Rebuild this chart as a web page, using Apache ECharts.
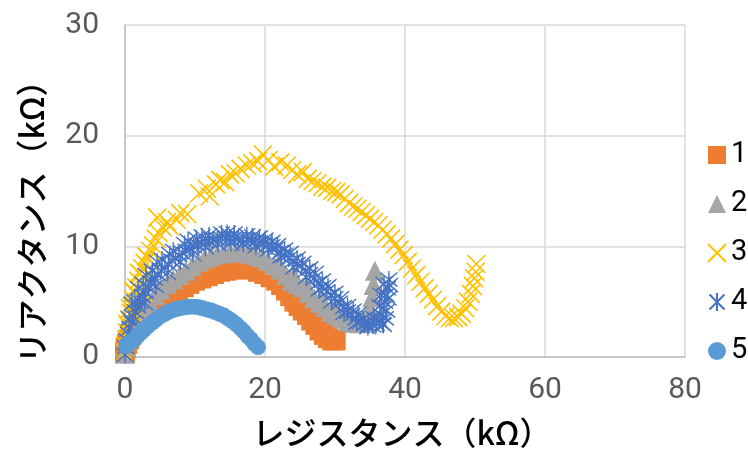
<!DOCTYPE html>
<html>
<head>
<meta charset="utf-8">
<script src="https://cdn.jsdelivr.net/npm/echarts@6/dist/echarts.min.js"></script>
<style>
  html, body { margin: 0; padding: 0; background: #fff; }
  #chart { width: 748px; height: 454px; }
</style>
</head>
<body>
<div id="chart"></div>
<script>
// Impedance traces: [resistance kΩ, reactance kΩ]
const seriesNames = ['1', '2', '3', '4', '5'];
const xTicks = [0, 20, 40, 60, 80];
const yTicks = [0, 10, 20, 30];

const trace1 = [
  [0,0.4],[0.1,0.8],[0.3,1.2],[0.6,1.6],[0.9,2.0],[1.3,2.4],[1.8,2.8],[2.4,3.3],[3.0,3.7],[3.7,4.1],
  [4.4,4.5],[5.2,4.9],[6.0,5.3],[6.8,5.7],[7.6,6.0],[8.4,6.3],[9.2,6.6],[10.0,6.9],[10.9,7.1],[11.8,7.3],
  [12.7,7.5],[13.6,7.7],[14.5,7.8],[15.4,7.9],[16.3,7.95],[17.2,7.95],[18.1,7.9],[19.0,7.7],[19.9,7.5],[20.8,7.2],
  [21.6,6.9],[22.3,6.5],[23.0,6.0],[23.6,5.5],[24.2,5.0],[24.8,4.6],[25.4,4.2],[26.0,3.8],[26.6,3.3],[27.2,2.9],
  [27.8,2.4],[28.4,2.0],[29.0,1.7],[29.6,1.5],[30.1,1.5],
  [9.0,7.2],[11.0,7.7],[13.0,8.1],[15.0,8.3],[17.0,8.3],[19.0,8.1],[21.0,7.6],[3.5,4.4],[6.0,5.8]
];

const trace2 = [
  [0,0.3],[0.1,0.9],[0.3,1.5],[0.6,2.1],[1.0,2.7],[1.5,3.3],[2.1,3.9],[2.8,4.5],[3.5,5.0],[4.3,5.6],
  [5.1,6.1],[6.0,6.6],[6.9,7.0],[7.8,7.4],[8.7,7.8],[9.6,8.2],[10.5,8.6],[11.4,8.9],[12.3,9.1],[13.2,9.3],
  [14.1,9.4],[15.0,9.45],[15.9,9.5],[16.8,9.45],[17.7,9.35],[18.6,9.2],[19.5,9.0],[20.4,8.7],[21.3,8.3],[22.2,7.9],
  [23.0,7.4],[23.8,6.9],[24.6,6.6],[25.4,6.3],[26.2,5.8],[27.0,5.3],[27.8,4.9],[28.6,4.5],[29.4,4.1],[30.2,3.8],
  [31.0,3.5],[31.8,3.25],[32.6,3.1],[33.4,3.05],[34.1,3.1],[34.6,3.6],[35.0,4.4],[35.3,5.4],[35.5,6.5],[35.7,7.8],
  [22.0,8.4],[24.0,7.5],[26.0,6.4],[28.0,5.3],[30.0,4.3],[32.0,3.6],[33.5,3.4]
];

const trace3 = [
  [0,0.4],[0.05,1.0],[0.15,1.6],[0.3,2.2],[0.45,2.8],[0.6,3.4],[0.8,4.0],[1.0,4.6],[1.2,5.2],[1.4,5.8],
  [1.6,6.3],[1.9,6.9],[2.2,7.5],[2.5,8.0],[2.8,8.5],[3.2,9.0],[3.6,9.6],[4.0,10.1],[4.4,10.7],[4.8,11.2],
  [4.6,12.6],[5.4,11.7],[6.0,12.2],[6.4,11.8],[7.4,12.4],[7.9,13.0],[8.9,12.9],[10.6,14.8],[11.7,15.2],[12.1,14.5],
  [13.0,15.6],[13.6,16.0],[14.3,15.8],[15.0,16.5],[15.8,16.6],[16.5,17.0],[17.4,17.3],[18.2,17.5],[19.0,17.7],[19.7,18.3],
  [20.5,17.8],[21.3,17.2],[22.2,17.6],[23.1,17.3],[23.9,16.9],[24.6,16.5],[25.4,16.7],[26.1,16.1],[26.8,15.9],[27.5,15.7],
  [28.2,15.4],[28.9,15.3],[29.6,15.0],[30.2,14.9],[30.8,14.7],[31.4,14.3],[32.0,13.9],[32.6,13.6],[33.2,13.4],[33.8,13.1],
  [34.4,12.8],[35.0,12.5],[35.6,12.2],[36.2,11.9],[36.8,11.5],[37.4,11.1],[38.0,10.7],[38.6,10.2],[39.2,9.7],[39.8,9.2],
  [40.4,8.6],[41.0,8.0],[41.6,7.4],[42.2,6.8],[42.8,6.2],[43.4,5.7],[44.0,5.2],[44.6,4.6],[45.2,4.1],[45.8,3.7],
  [46.4,3.5],[47.0,3.5],[47.6,3.6],[48.1,3.9],[48.6,4.4],[49.0,5.0],[49.4,5.7],[49.7,6.4],[49.9,7.1],[50.1,7.7],[50.2,8.4],
  [0.3,3.0],[0.7,4.4],[1.2,6.0],[2.0,7.6],[3.0,9.1],[1.5,3.8],[2.6,5.8],[3.6,7.5]
];

const trace4 = [
  [0,0.2],[0.1,0.9],[0.3,1.5],[0.5,2.1],[0.7,2.6],[1.0,3.1],[1.2,3.6],[1.5,4.1],[1.8,4.6],[2.1,5.0],
  [2.5,5.5],[2.9,5.9],[3.3,6.3],[3.7,6.7],[4.2,7.1],[4.7,7.5],[5.2,7.8],[5.7,8.1],[6.2,8.4],[6.7,8.7],
  [7.2,8.9],[7.7,9.2],[8.2,9.4],[8.7,9.6],[9.3,9.8],[9.8,10.0],[10.4,10.1],[10.9,10.3],[11.5,10.4],[12.0,10.5],
  [12.6,10.6],[13.2,10.65],[13.8,10.7],[14.4,10.75],[15.0,10.75],[15.6,10.75],[16.2,10.7],[16.8,10.65],[17.4,10.6],[18.0,10.5],
  [18.6,10.45],[19.2,10.35],[19.8,10.25],[20.4,10.15],[21.0,10.0],[21.6,9.8],[22.2,9.5],[22.8,9.2],[23.4,8.9],[24.0,8.7],
  [24.6,8.4],[25.2,8.2],[25.8,7.8],[26.4,7.5],[27.0,7.1],[27.6,6.7],[28.2,6.3],[28.8,5.9],[29.4,5.6],[30.0,5.3],
  [30.6,4.9],[31.2,4.5],[31.8,4.1],[32.4,3.8],[33.0,3.5],[33.6,3.2],[34.2,3.0],[34.8,2.9],[35.4,2.85],[35.9,3.0],
  [36.3,3.3],[36.6,3.8],[36.9,4.4],[37.1,5.0],[37.3,5.6],[37.5,6.2],[37.7,7.0],[37.8,6.5],[37.6,5.3],[37.4,4.2],
  [37.2,3.5],[36.8,3.0],[36.4,4.6],[36.6,5.6],[37.0,6.6],[36.9,2.9],[35.6,3.5],
  // upper and lower edges of the scattered band
  [1.4,5.0],[2.6,6.6],[3.9,7.8],[5.3,8.8],[6.9,9.6],[8.5,10.2],[10.2,10.7],[12.0,11.0],[13.8,11.15],[15.6,11.15],
  [17.4,11.0],[19.2,10.8],[21.0,10.4],[22.8,9.7],[24.6,8.9],[26.4,8.0],[28.2,6.9],[30.0,5.8],[31.8,4.6],[33.3,3.9],
  [2.8,4.9],[4.4,6.4],[6.1,7.6],[7.9,8.6],[9.7,9.3],[11.5,9.9],[13.3,10.2],[15.1,10.3],[16.9,10.2],[18.7,10.0],
  [20.5,9.7],[22.3,9.1],[24.1,8.1],[25.9,7.2],[27.7,6.1],[29.5,5.0],[31.3,4.0],[33.1,3.1],[34.7,2.7],
  [0.6,3.5],[1.0,4.8],[1.9,6.2],[3.0,7.4],[4.6,8.6],[6.4,9.3],[9.0,10.5],[11.0,10.9],[14.6,11.2],[18.2,10.9],
  [20.0,10.6],[21.8,10.1],[23.6,9.4],[25.4,8.5],[27.2,7.6],[29.0,6.4],[30.8,5.3],[32.6,4.2],[34.0,3.4]
];

const trace5 = [
  [0.2,1.0],[0.4,1.1],[0.7,1.3],[1.0,1.4],[1.4,1.6],[1.8,1.9],[2.3,2.2],[2.8,2.5],[3.3,2.8],[3.9,3.1],
  [4.5,3.4],[5.1,3.7],[5.7,3.9],[6.3,4.1],[6.9,4.25],[7.5,4.35],[8.1,4.45],[8.7,4.5],[9.3,4.55],[9.9,4.55],
  [10.5,4.5],[11.1,4.4],[11.7,4.3],[12.3,4.2],[12.9,4.05],[13.5,3.9],[14.1,3.75],[14.7,3.5],[15.3,3.25],[15.9,2.95],
  [16.5,2.6],[17.0,2.3],[17.5,1.9],[18.0,1.6],[18.5,1.2],[19.0,0.9]
];

const traces = [trace1, trace2, trace3, trace4, trace5];
const colors = ['#ED7D31', '#A5A5A5', '#FFC000', '#4472C4', '#5B9BD5'];

const crossPath = 'path://M0,0L10,10M10,0L0,10';
const starPath = 'path://M0,0L10,10M10,0L0,10M5,-1L5,11';

const markerStyles = [
  { symbol: 'rect', symbolSize: 20, itemStyle: { color: colors[0], opacity: 1 } },
  { symbol: 'triangle', symbolSize: 20, itemStyle: { color: colors[1], opacity: 1 } },
  { symbol: crossPath, symbolSize: 18, itemStyle: { color: 'rgba(0,0,0,0)', borderColor: colors[2], borderWidth: 1.6, opacity: 1 } },
  { symbol: starPath, symbolSize: 17, itemStyle: { color: 'rgba(0,0,0,0)', borderColor: colors[3], borderWidth: 1.4, opacity: 1 } },
  { symbol: 'circle', symbolSize: 16, itemStyle: { color: colors[4], opacity: 1 } }
];

const numFont = 'Roboto, sans-serif';
const jpFont = '"Noto Sans CJK JP", sans-serif';

const chart = echarts.init(document.getElementById('chart'), null, { renderer: 'canvas' });

chart.setOption({
  animation: false,
  backgroundColor: '#fff',
  grid: { left: 125, right: 63, top: 25, bottom: 96, containLabel: false },
  legend: {
    orient: 'vertical',
    left: 702,
    top: 135,
    itemWidth: 18,
    itemHeight: 18,
    itemGap: 19,
    data: seriesNames,
    textStyle: { fontFamily: numFont, fontSize: 29, color: '#000', lineHeight: 30 }
  },
  xAxis: {
    type: 'value',
    min: xTicks[0],
    max: xTicks[xTicks.length - 1],
    interval: xTicks[1] - xTicks[0],
    name: 'レジスタンス（kΩ）',
    nameLocation: 'middle',
    nameGap: 60,
    nameTextStyle: { fontFamily: jpFont, fontSize: 32, fontWeight: 500, color: '#000', padding: [0, 6, 0, 0] },
    axisLine: { show: true, lineStyle: { color: '#BFBFBF', width: 1.5 } },
    axisTick: { show: false },
    axisLabel: { margin: 19, fontFamily: numFont, fontSize: 30, color: '#595959' },
    splitLine: { show: true, lineStyle: { color: '#D9D9D9', width: 1.5 } }
  },
  yAxis: {
    type: 'value',
    min: yTicks[0],
    max: yTicks[yTicks.length - 1],
    interval: yTicks[1] - yTicks[0],
    name: 'リアクタンス（kΩ）',
    nameLocation: 'middle',
    nameGap: 77,
    nameTextStyle: { fontFamily: jpFont, fontSize: 32, fontWeight: 500, color: '#000', padding: [0, 46, 0, 0] },
    axisLine: { show: true, lineStyle: { color: '#BFBFBF', width: 1.5 } },
    axisTick: { show: false },
    axisLabel: { margin: 26, fontFamily: numFont, fontSize: 30, color: '#595959' },
    splitLine: { show: true, lineStyle: { color: '#D9D9D9', width: 1.5 } }
  },
  series: traces.map((data, i) => Object.assign({
    name: seriesNames[i],
    type: 'scatter',
    data: data,
    emphasis: { disabled: true }
  }, markerStyles[i]))
});
</script>
</body>
</html>
